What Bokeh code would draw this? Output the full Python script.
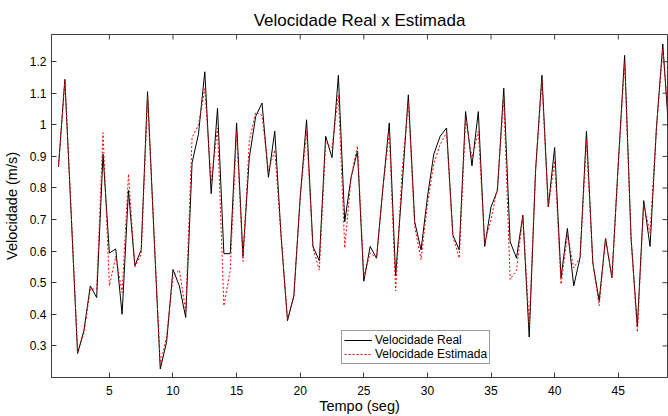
import math
from bokeh.plotting import figure
from bokeh.models import (Range1d, FixedTicker, NumeralTickFormatter,
                          Legend, LegendItem, ColumnDataSource)
from bokeh.embed import file_html
from bokeh.resources import INLINE

# ---------------- data ----------------
tempo = [1.0, 1.5, 2.0, 2.5, 3.0, 3.5, 4.0, 4.5, 5.0, 5.5,
         6.0, 6.5, 7.0, 7.5, 8.0, 8.5, 9.0, 9.5, 10.0, 10.5,
         11.0, 11.5, 12.0, 12.5, 13.0, 13.5, 14.0, 14.5, 15.0, 15.5,
         16.0, 16.5, 17.0, 17.5, 18.0, 18.5, 19.0, 19.5, 20.0, 20.5,
         21.0, 21.5, 22.0, 22.5, 23.0, 23.5, 24.0, 24.5, 25.0, 25.5,
         26.0, 26.5, 27.0, 27.5, 28.0, 28.5, 29.0, 29.5, 30.0, 30.5,
         31.0, 31.5, 32.0, 32.5, 33.0, 33.5, 34.0, 34.5, 35.0, 35.5,
         36.0, 36.5, 37.0, 37.5, 38.0, 38.5, 39.0, 39.5, 40.0, 40.5,
         41.0, 41.5, 42.0, 42.5, 43.0, 43.5, 44.0, 44.5, 45.0, 45.5,
         46.0, 46.5, 47.0, 47.5, 48.0, 48.5, 49.0]

vel_real = [0.867, 1.144, 0.714, 0.276, 0.349, 0.490, 0.453, 0.907, 0.594, 0.607,
            0.400, 0.792, 0.554, 0.604, 1.105, 0.660, 0.227, 0.313, 0.542, 0.490,
            0.390, 0.880, 0.970, 1.168, 0.782, 1.053, 0.592, 0.592, 1.006, 0.584,
            0.896, 1.027, 1.069, 0.834, 0.980, 0.646, 0.380, 0.458, 0.771, 1.016,
            0.615, 0.570, 0.964, 0.896, 1.157, 0.693, 0.834, 0.917, 0.505, 0.615,
            0.578, 0.800, 1.006, 0.521, 0.800, 1.095, 0.693, 0.604, 0.771, 0.907,
            0.964, 0.990, 0.651, 0.604, 1.042, 0.870, 1.042, 0.615, 0.740, 0.792,
            1.116, 0.630, 0.578, 0.714, 0.328, 0.855, 1.157, 0.740, 0.928, 0.516,
            0.672, 0.490, 0.580, 0.980, 0.563, 0.443, 0.641, 0.516, 0.876, 1.220,
            0.646, 0.360, 0.760, 0.615, 0.990, 1.256, 0.960]

vel_estimada = [0.870, 1.140, 0.720, 0.280, 0.340, 0.480, 0.480, 0.975, 0.490, 0.583,
                0.469, 0.844, 0.550, 0.590, 1.089, 0.660, 0.240, 0.330, 0.520, 0.540,
                0.410, 0.960, 1.000, 1.115, 0.820, 0.990, 0.427, 0.540, 0.980, 0.568,
                0.950, 1.040, 1.030, 0.855, 0.920, 0.646, 0.385, 0.460, 0.770, 0.980,
                0.610, 0.540, 0.943, 0.928, 1.095, 0.610, 0.834, 0.933, 0.520, 0.594,
                0.578, 0.800, 0.980, 0.474, 0.850, 1.074, 0.677, 0.573, 0.750, 0.876,
                0.938, 0.975, 0.646, 0.578, 1.020, 0.896, 0.980, 0.625, 0.700, 0.800,
                1.090, 0.510, 0.540, 0.710, 0.364, 0.855, 1.140, 0.740, 0.886, 0.495,
                0.650, 0.547, 0.580, 0.950, 0.563, 0.427, 0.641, 0.516, 0.876, 1.200,
                0.646, 0.344, 0.750, 0.657, 0.990, 1.240, 1.000]

x_ticks = [5, 10, 15, 20, 25, 30, 35, 40, 45]
y_ticks = [0.3, 0.4, 0.5, 0.6, 0.7, 0.8, 0.9, 1.0, 1.1, 1.2]

titulo = "Velocidade Real x Estimada"
rotulo_x = "Tempo (seg)"
rotulo_y = "Velocidade (m/s)"
nome_real = "Velocidade Real"
nome_estimada = "Velocidade Estimada"

# ---------------- figure ----------------
FONT = "Liberation Sans"
AX_COLOR = "#3c3c3c"
X_MIN, X_MAX = 0.45, 48.87
Y_MIN, Y_MAX = 0.2, 1.286

p = figure(width=668, height=416, output_backend="svg", toolbar_location=None,
           x_range=Range1d(X_MIN, X_MAX), y_range=Range1d(Y_MIN, Y_MAX),
           min_border_left=51, min_border_right=1, min_border_top=34,
           min_border_bottom=35, title=titulo)

p.title.align = "center"
p.title.text_font = FONT
p.title.text_font_size = "17px"
p.title.text_font_style = "normal"
p.title.text_color = "black"

p.xgrid.visible = False
p.ygrid.visible = False
p.outline_line_color = AX_COLOR
p.outline_line_width = 1
p.background_fill_color = "white"
p.border_fill_color = "white"

src = ColumnDataSource(dict(t=tempo, real=vel_real, est=vel_estimada))
r_real = p.line("t", "real", source=src, line_color="black", line_width=1)
r_est = p.line("t", "est", source=src, line_color="#ff0000", line_width=1,
               line_dash="2 2")

# box ticks on the top and right edges (MATLAB "box on" style)
p.scatter(x=x_ticks, y=[Y_MAX] * len(x_ticks), marker="dash", size=10,
          angle=math.pi / 2, line_color=AX_COLOR, line_width=1)
p.scatter(x=[X_MAX] * len(y_ticks), y=y_ticks, marker="dash", size=10,
          line_color=AX_COLOR, line_width=1)

xa = p.xaxis[0]
ya = p.yaxis[0]
xa.ticker = FixedTicker(ticks=x_ticks)
ya.ticker = FixedTicker(ticks=y_ticks)
ya.formatter = NumeralTickFormatter(format="0.[0]")
for ax in (xa, ya):
    ax.axis_line_color = AX_COLOR
    ax.major_tick_line_color = AX_COLOR
    ax.major_tick_in = 5
    ax.major_tick_out = 0
    ax.minor_tick_line_color = None
    ax.major_label_text_font = FONT
    ax.major_label_text_color = "black"
    ax.major_label_text_font_size = "12px"
    ax.axis_label_text_font = FONT
    ax.axis_label_text_font_size = "14.5px"
    ax.axis_label_text_font_style = "normal"
    ax.axis_label_text_color = "black"
xa.axis_label = rotulo_x
ya.axis_label = rotulo_y
xa.major_label_standoff = 8
xa.axis_label_standoff = 0
ya.major_label_standoff = 5
ya.axis_label_standoff = 7

legend = Legend(items=[LegendItem(label=nome_real, renderers=[r_real]),
                       LegendItem(label=nome_estimada, renderers=[r_est])],
                location=(290, 13))
legend.label_text_font = FONT
legend.label_text_font_size = "12px"
legend.label_text_color = "black"
legend.glyph_width = 28
legend.glyph_height = 14
legend.label_height = 14
legend.label_standoff = 3
legend.spacing = 0
legend.padding = 2
legend.margin = 0
legend.border_line_color = AX_COLOR
legend.border_line_width = 1
legend.background_fill_color = "white"
legend.background_fill_alpha = 1
p.add_layout(legend, "center")

open("out.html", "w").write(file_html(p, INLINE))
